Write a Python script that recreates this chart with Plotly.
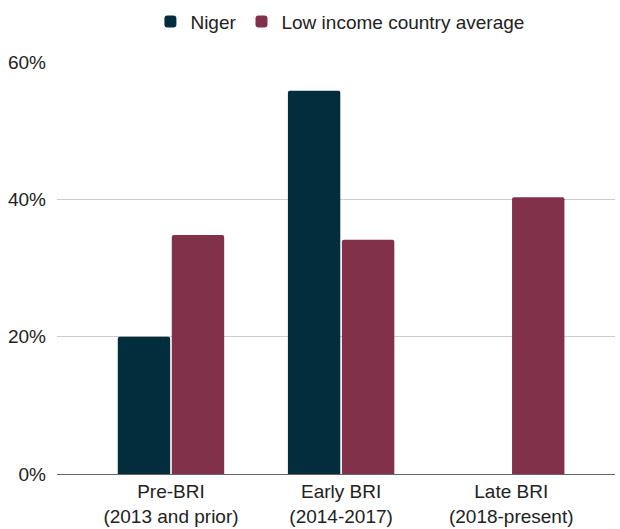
import plotly.graph_objects as go

categories = ["Pre-BRI<br>(2013 and prior)", "Early BRI<br>(2014-2017)", "Late BRI<br>(2018-present)"]
niger = [0.20, 0.558, 0]
low_income = [0.348, 0.341, 0.403]
tick_vals = [0, 0.2, 0.4, 0.6]
tick_text = ["0%", "20%", "40%", "60%"]

fig = go.Figure()
fig.add_trace(go.Bar(name="Niger", x=categories, y=niger, marker_color="#022d3c",
                     marker_line_width=0))
fig.add_trace(go.Bar(name="Low income country average", x=categories, y=low_income,
                     marker_color="#82314b", marker_line_width=0))

fig.update_layout(
    width=620, height=529,
    margin=dict(l=57, r=5, t=62, b=55),
    paper_bgcolor="white", plot_bgcolor="white",
    font=dict(family="Liberation Sans, Arial, sans-serif", size=19, color="#222222"),
    barmode="group", bargap=0.365, bargroupgap=0.03,
    barcornerradius=2,
    legend=dict(orientation="h", x=0.507, xanchor="center", y=0.995, yanchor="top",
                yref="container", font=dict(size=19), itemwidth=30),
    showlegend=True,
)
fig.update_xaxes(range=[-0.67, 2.61], showgrid=False, showline=False, ticks="",
                 tickfont=dict(size=19), ticklabelstandoff=4, automargin=False)
fig.update_yaxes(range=[0, 0.6], tickvals=tick_vals, ticktext=tick_text,
                 showgrid=True, gridcolor="#cccccc", gridwidth=1,
                 zeroline=True, zerolinecolor="#666666", zerolinewidth=1,
                 ticks="", tickfont=dict(size=19), ticklabelstandoff=10,
                 automargin=False)

fig.write_html("out.html")
